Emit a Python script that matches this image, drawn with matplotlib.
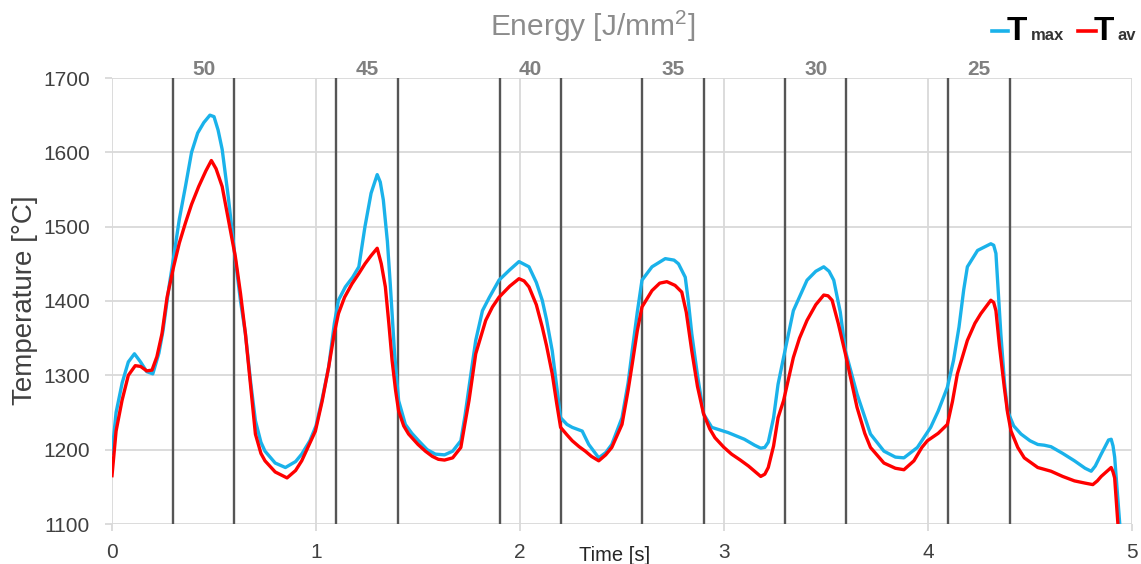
import matplotlib
matplotlib.use("Agg")
import matplotlib.pyplot as plt
from matplotlib.lines import Line2D

# ---------------- data ----------------
tmax_t = [0.00, 0.02, 0.05, 0.08, 0.11, 0.14, 0.17, 0.20, 0.23, 0.25, 0.28, 0.30, 0.33, 0.36, 0.39,
          0.42, 0.45, 0.48, 0.50, 0.52, 0.54, 0.57, 0.605, 0.63, 0.654, 0.68, 0.703, 0.73, 0.75, 0.80,
          0.85, 0.90, 0.93, 0.97, 1.00, 1.03, 1.062, 1.09, 1.11, 1.144, 1.18, 1.21, 1.24, 1.27, 1.30,
          1.315, 1.33, 1.35, 1.364, 1.385, 1.405, 1.438, 1.47, 1.503, 1.545, 1.585, 1.63, 1.67, 1.71,
          1.73, 1.75, 1.783, 1.816, 1.85, 1.897, 1.95, 1.995, 2.044, 2.08, 2.109, 2.13, 2.158, 2.18,
          2.199, 2.23, 2.256, 2.305, 2.337, 2.386, 2.42, 2.45, 2.50, 2.53, 2.55, 2.575, 2.598, 2.647,
          2.712, 2.755, 2.777, 2.81, 2.825, 2.842, 2.87, 2.90, 2.94, 3.02, 3.10, 3.15, 3.18, 3.20,
          3.217, 3.243, 3.265, 3.292, 3.34, 3.407, 3.45, 3.489, 3.515, 3.538, 3.57, 3.595, 3.652,
          3.718, 3.784, 3.84, 3.882, 3.948, 4.013, 4.05, 4.095, 4.125, 4.152, 4.175, 4.193, 4.243,
          4.308, 4.322, 4.333, 4.345, 4.357, 4.375, 4.39, 4.42, 4.456, 4.50, 4.538, 4.57, 4.603,
          4.66, 4.718, 4.77, 4.80, 4.82, 4.849, 4.885, 4.898, 4.907, 4.915, 4.94]
tmax_v = [1195, 1250, 1290, 1318, 1329, 1318, 1305, 1302, 1330, 1360, 1420, 1455, 1510, 1554, 1600,
          1626, 1640, 1650, 1648, 1630, 1604, 1540, 1455, 1400, 1356, 1290, 1239, 1210, 1198, 1182,
          1176, 1184, 1194, 1212, 1232, 1268, 1311, 1370, 1401, 1419, 1432, 1446, 1500, 1545, 1570,
          1560, 1536, 1480, 1423, 1330, 1266, 1234, 1222, 1212, 1200, 1194, 1193, 1198, 1212,
          1245, 1284, 1347, 1387, 1405, 1428, 1442, 1453, 1446, 1425, 1401, 1375, 1333, 1285,
          1243, 1234, 1230, 1225, 1207, 1189, 1196, 1207, 1243, 1290, 1333, 1385, 1428, 1446,
          1457, 1455, 1450, 1432, 1400, 1356, 1300, 1248, 1230, 1223, 1214, 1206, 1202, 1203,
          1210, 1243, 1288, 1324, 1387, 1428, 1440, 1446, 1440, 1428, 1385, 1333, 1275,
          1221, 1198, 1190, 1189, 1203, 1230, 1252, 1284, 1320, 1365, 1415, 1446, 1468,
          1477, 1475, 1464, 1410, 1356, 1290, 1252, 1232, 1221, 1212, 1207, 1206, 1204,
          1195, 1185, 1175, 1171, 1178, 1194, 1213, 1214, 1205, 1190, 1100]

tav_t = [0.00, 0.02, 0.049, 0.08, 0.114, 0.14, 0.17, 0.196, 0.22, 0.245, 0.27, 0.302, 0.33, 0.36,
         0.39, 0.425, 0.46, 0.487, 0.51, 0.54, 0.57, 0.605, 0.63, 0.654, 0.68, 0.703, 0.73, 0.75,
         0.80, 0.858, 0.90, 0.93, 0.96, 0.997, 1.03, 1.062, 1.09, 1.11, 1.14, 1.176, 1.21, 1.24,
         1.27, 1.30, 1.32, 1.34, 1.357, 1.373, 1.39, 1.405, 1.43, 1.454, 1.50, 1.536, 1.57, 1.60,
         1.63, 1.67, 1.71, 1.73, 1.75, 1.783, 1.832, 1.865, 1.897, 1.95, 1.995, 2.02, 2.044, 2.08,
         2.109, 2.13, 2.158, 2.18, 2.199, 2.23, 2.256, 2.29, 2.32, 2.35, 2.386, 2.42, 2.45, 2.50,
         2.53, 2.55, 2.575, 2.598, 2.647, 2.685, 2.72, 2.76, 2.793, 2.815, 2.842, 2.87, 2.90,
         2.93, 2.956, 3.00, 3.037, 3.08, 3.12, 3.15, 3.18, 3.20, 3.217, 3.243, 3.265, 3.292, 3.34,
         3.37, 3.407, 3.45, 3.489, 3.51, 3.53, 3.56, 3.595, 3.652, 3.69, 3.718, 3.784, 3.84,
         3.882, 3.931, 3.97, 3.997, 4.05, 4.095, 4.12, 4.144, 4.193, 4.23, 4.259, 4.308, 4.322,
         4.333, 4.35, 4.374, 4.39, 4.407, 4.44, 4.472, 4.538, 4.603, 4.66, 4.718, 4.77, 4.808,
         4.83, 4.849, 4.898, 4.907, 4.915, 4.931]
tav_v = [1165, 1225, 1266, 1300, 1313, 1312, 1306, 1307, 1325, 1356, 1405, 1446, 1478, 1505,
         1530, 1554, 1575, 1589, 1578, 1554, 1510, 1459, 1410, 1356, 1285, 1221, 1195, 1185,
         1170, 1162, 1172, 1185, 1203, 1225, 1265, 1311, 1357, 1383, 1405, 1423, 1437, 1450,
         1461, 1471, 1450, 1419, 1370, 1320, 1280, 1252, 1232, 1221, 1207, 1198, 1191, 1187,
         1186, 1189, 1203, 1235, 1266, 1329, 1374, 1392, 1405, 1420, 1430, 1427, 1419, 1395,
         1365, 1340, 1302, 1262, 1230, 1220, 1212, 1204, 1198, 1191, 1185, 1193, 1203, 1234,
         1280, 1315, 1360, 1392, 1414, 1424, 1426, 1421, 1412, 1385, 1333, 1285, 1248,
         1228, 1216, 1203, 1194, 1186, 1178, 1171, 1164, 1167, 1176, 1205, 1243, 1266, 1324,
         1350, 1374, 1395, 1408, 1407, 1401, 1370, 1329, 1257, 1222, 1203, 1182, 1175,
         1173, 1185, 1203, 1212, 1222, 1234, 1265, 1302, 1347, 1370, 1383, 1401, 1398,
         1387, 1340, 1284, 1250, 1225, 1203, 1189, 1176, 1171, 1164, 1158, 1155, 1153,
         1158, 1164, 1176, 1170, 1162, 1100]

energy_labels = ["50", "45", "40", "35", "30", "25"]
window_start = [0.3, 1.1, 1.9, 2.6, 3.3, 4.1]
window_end = [0.6, 1.4, 2.2, 2.9, 3.6, 4.4]

x_ticks = [0, 1, 2, 3, 4, 5]
y_ticks = [1100, 1200, 1300, 1400, 1500, 1600, 1700]

# ---------------- style ----------------
plt.rcParams['font.family'] = ['Liberation Sans', 'DejaVu Sans']
plt.rcParams['mathtext.fontset'] = 'custom'
plt.rcParams['mathtext.rm'] = 'Liberation Sans'

W, H = 1141, 564
fig = plt.figure(figsize=(W / 100, H / 100), dpi=100)
ax = fig.add_axes([112 / W, 40 / H, 1020 / W, 446 / H])

BLUE = '#1ab2ea'
RED = '#ff0000'
GRID = '#d9d9d9'
TXT = '#404040'

ax.set_xlim(0, 5)
ax.set_ylim(1100, 1700)
ax.set_xticks(x_ticks)
ax.set_yticks(y_ticks)
ax.grid(True, color=GRID, lw=1.3, zorder=0)
ax.set_axisbelow(True)
for s in ax.spines.values():
    s.set_visible(False)
ax.tick_params(axis='both', colors=GRID, labelcolor=TXT, labelsize=15, length=5, width=1.3)
ax.tick_params(axis='x', pad=9)
ax.tick_params(axis='y', pad=11)

ax.vlines(window_start + window_end, 1100, 1700, color='#555555', lw=1.7, zorder=2)

ax.plot(tmax_t, tmax_v, color=BLUE, lw=2.4, zorder=3, solid_joinstyle='round')
ax.plot(tav_t, tav_v, color=RED, lw=2.4, zorder=4, solid_joinstyle='round')

for lab, a, b in zip(energy_labels, window_start, window_end):
    ax.text((a + b) / 2, 1712, lab, ha='center', va='center', fontsize=15,
            fontweight='bold', color='#808080', clip_on=False)

ax.set_ylabel('Temperature [°C]', fontsize=20, color=TXT)
ax.yaxis.set_label_coords(25 / W * 1 - 112 / W, 0.5, transform=fig.transFigure) if False else None
fig.text(25 / W, 1 - 300 / H, 'Temperature [°C]', rotation=90, ha='center', va='center',
         fontsize=20, color=TXT)
ax.set_ylabel('')

fig.text(615 / W, 1 - 561 / H, 'Time [s]', ha='center', va='baseline', fontsize=14.5, color='#262626')

fig.text(593 / W, 1 - 36 / H, 'Energy [J/mm$^2$]', ha='center', va='baseline',
         fontsize=21.5, color='#8c8c8c')

# legend
def fx(px):
    return px / W

def fy(py):
    return 1 - py / H

fig.add_artist(Line2D([fx(992), fx(1008)], [fy(31), fy(31)], color=BLUE, lw=2.6,
                      transform=fig.transFigure))
fig.text(fx(1007), fy(40), 'T', fontsize=24, fontweight='bold', color='black',
         ha='left', va='baseline')
fig.text(fx(1031), fy(40), 'max', fontsize=12, fontweight='bold', color='#333333',
         ha='left', va='baseline')
fig.add_artist(Line2D([fx(1078), fx(1096)], [fy(31), fy(31)], color=RED, lw=2.6,
                      transform=fig.transFigure))
fig.text(fx(1094), fy(40), 'T', fontsize=24, fontweight='bold', color='black',
         ha='left', va='baseline')
fig.text(fx(1117), fy(40), 'av', fontsize=12, fontweight='bold', color='#333333',
         ha='left', va='baseline')

fig.savefig('out.png', dpi=100)
